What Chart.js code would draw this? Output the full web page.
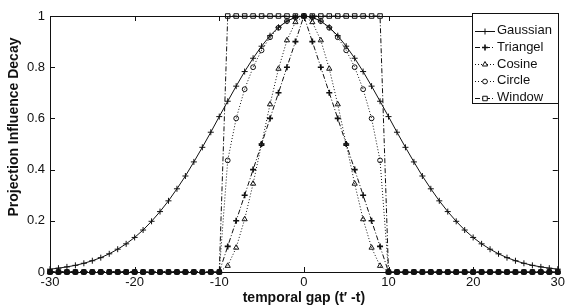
<!DOCTYPE html>
<html>
<head>
<meta charset="utf-8">
<script src="https://cdn.jsdelivr.net/npm/chart.js@4.4.0/dist/chart.umd.min.js"></script>
<style>
  html, body { margin: 0; padding: 0; background: #fff; }
  canvas { display: block; }
</style>
</head>
<body>
<canvas id="myChart" width="568" height="307"></canvas>
<script>
// temporal gap values (x axis)
const gapVals = [-30,-29,-28,-27,-26,-25,-24,-23,-22,-21,-20,-19,-18,-17,-16,-15,-14,-13,-12,-11,
    -10,-9,-8,-7,-6,-5,-4,-3,-2,-1,0,1,2,3,4,5,6,7,8,9,10,
    11,12,13,14,15,16,17,18,19,20,21,22,23,24,25,26,27,28,29,30];

const gaussianVals = [0.011,0.015,0.020,0.026,0.034,0.044,0.056,0.071,0.089,0.110,
    0.135,0.164,0.198,0.236,0.278,0.325,0.375,0.430,0.487,0.546,
    0.607,0.667,0.726,0.783,0.835,0.882,0.923,0.956,0.980,0.995,1,
    0.995,0.980,0.956,0.923,0.882,0.835,0.783,0.726,0.667,0.607,
    0.546,0.487,0.430,0.375,0.325,0.278,0.236,0.198,0.164,0.135,
    0.110,0.089,0.071,0.056,0.044,0.034,0.026,0.020,0.015,0.011];

const triangelVals = [0,0,0,0,0,0,0,0,0,0,0,0,0,0,0,0,0,0,0,0,
    0,0.1,0.2,0.3,0.4,0.5,0.6,0.7,0.8,0.9,1,0.9,0.8,0.7,0.6,0.5,0.4,0.3,0.2,0.1,0,
    0,0,0,0,0,0,0,0,0,0,0,0,0,0,0,0,0,0,0,0];

const cosineVals = [0,0,0,0,0,0,0,0,0,0,0,0,0,0,0,0,0,0,0,0,
    0,0.024,0.095,0.206,0.345,0.5,0.655,0.794,0.905,0.976,1,0.976,0.905,0.794,0.655,0.5,0.345,0.206,0.095,0.024,0,
    0,0,0,0,0,0,0,0,0,0,0,0,0,0,0,0,0,0,0,0];

const circleVals = [0,0,0,0,0,0,0,0,0,0,0,0,0,0,0,0,0,0,0,0,
    0,0.436,0.6,0.714,0.8,0.866,0.917,0.954,0.98,0.995,1,0.995,0.98,0.954,0.917,0.866,0.8,0.714,0.6,0.436,0,
    0,0,0,0,0,0,0,0,0,0,0,0,0,0,0,0,0,0,0,0];

const windowVals = [0,0,0,0,0,0,0,0,0,0,0,0,0,0,0,0,0,0,0,0,
    0,1,1,1,1,1,1,1,1,1,1,1,1,1,1,1,1,1,1,1,0,
    0,0,0,0,0,0,0,0,0,0,0,0,0,0,0,0,0,0,0,0];

const seriesNames = ['Gaussian', 'Triangel', 'Cosine', 'Circle', 'Window'];
const xTicks = [-30, -20, -10, 0, 10, 20, 30];
const yTicks = [0, 0.2, 0.4, 0.6, 0.8, 1];
const xTitle = 'temporal gap (t\u2032 -t)';
const yTitle = 'Projection Influence Decay';

const ink = '#111';
const fontFam = '"Liberation Sans", Arial, sans-serif';

function toPts(vals) {
    return gapVals.map((x, i) => ({x: x, y: vals[i]}));
}

const styles = [
    {dash: [], point: 'cross', r: 3, bw: 1},
    {dash: [5, 2, 1, 2], point: 'cross', r: 3, bw: 1.6},
    {dash: [1, 2], point: 'triangle', r: 3, bw: 1},
    {dash: [1, 2], point: 'circle', r: 2.4, bw: 1},
    {dash: [5, 2, 1, 2], point: 'rect', r: 3.2, bw: 1}
];
const allVals = [gaussianVals, triangelVals, cosineVals, circleVals, windowVals];

const datasets = allVals.map((vals, i) => ({
    label: seriesNames[i],
    data: toPts(vals),
    order: i === 4 ? 0 : 1,
    borderColor: ink,
    borderWidth: 1,
    borderDash: styles[i].dash,
    pointStyle: styles[i].point,
    pointRadius: styles[i].r,
    pointBorderWidth: styles[i].bw,
    pointBorderColor: ink,
    // window squares on the zero line look solid in the original
    pointBackgroundColor: i === 4 ? (c => (c.raw && c.raw.y === 0 ? ink : 'rgba(0,0,0,0)')) : 'rgba(0,0,0,0)',
    tension: 0,
    fill: false,
    clip: false
}));

// box, inward ticks, titles and legend (matlab style)
const matlabLook = {
    id: 'matlabLook',
    beforeDatasetsDraw(chart) {
        const ctx = chart.ctx;
        const a = chart.chartArea;
        const xs = chart.scales.x, ys = chart.scales.y;
        ctx.save();
        ctx.strokeStyle = ink;
        ctx.lineWidth = 1;
        ctx.strokeRect(Math.round(a.left) + 0.5, Math.round(a.top) + 0.5,
            Math.round(a.right - a.left), Math.round(a.bottom - a.top));
        ctx.beginPath();
        xTicks.forEach(t => {
            const px = Math.round(xs.getPixelForValue(t)) + 0.5;
            ctx.moveTo(px, a.bottom); ctx.lineTo(px, a.bottom - 5);
            ctx.moveTo(px, a.top); ctx.lineTo(px, a.top + 5);
        });
        yTicks.forEach(t => {
            const py = Math.round(ys.getPixelForValue(t)) + 0.5;
            ctx.moveTo(a.left, py); ctx.lineTo(a.left + 5, py);
            ctx.moveTo(a.right, py); ctx.lineTo(a.right - 5, py);
        });
        ctx.stroke();
        ctx.restore();
    },
    afterDraw(chart) {
        const ctx = chart.ctx;
        const a = chart.chartArea;
        ctx.save();
        ctx.fillStyle = ink;
        ctx.font = 'bold 14px ' + fontFam;
        ctx.textAlign = 'center';
        ctx.textBaseline = 'middle';
        ctx.fillText(xTitle, (a.left + a.right) / 2, 298);
        ctx.translate(14, 127);
        ctx.rotate(-Math.PI / 2);
        ctx.fillText(yTitle, 0, 0);
        ctx.restore();

        // legend
        ctx.save();
        ctx.fillStyle = '#fff';
        ctx.fillRect(472, 13, 87, 91);
        ctx.strokeStyle = ink;
        ctx.lineWidth = 1;
        ctx.strokeRect(472.5, 13.5, 86, 90);
        ctx.font = '13px ' + fontFam;
        ctx.textAlign = 'left';
        ctx.textBaseline = 'middle';
        seriesNames.forEach((name, i) => {
            const y = 30.5 + i * 16.8;
            const py = Math.round(y) + 0.5;
            ctx.beginPath();
            ctx.setLineDash(styles[i].dash);
            ctx.moveTo(475, py);
            ctx.lineTo(495, py);
            ctx.stroke();
            ctx.setLineDash([]);
            ctx.lineWidth = styles[i].bw;
            ctx.fillStyle = '#fff';
            Chart.helpers.drawPoint(ctx, {pointStyle: styles[i].point, radius: styles[i].r, rotation: 0, borderWidth: styles[i].bw}, 485, py);
            ctx.lineWidth = 1;
            ctx.fillStyle = ink;
            ctx.fillText(name, 497, y);
        });
        ctx.restore();
    }
};

const ctx = document.getElementById('myChart').getContext('2d');
const myChart = new Chart(ctx, {
    type: 'line',
    data: {datasets: datasets},
    options: {
        responsive: false,
        animation: false,
        events: [],
        layout: {padding: {top: 16, right: 10, left: 0, bottom: 0}},
        plugins: {legend: {display: false}, tooltip: {enabled: false}},
        scales: {
            x: {
                type: 'linear', min: -30, max: 30,
                afterBuildTicks: s => { s.ticks = xTicks.map(v => ({value: v})); },
                ticks: {color: ink, font: {size: 13, family: fontFam}, padding: 3, maxRotation: 0,
                    callback: v => String(v)},
                grid: {display: false, drawTicks: false},
                border: {display: false},
                afterFit: s => { s.height = 35; }
            },
            y: {
                min: 0, max: 1,
                afterBuildTicks: s => { s.ticks = yTicks.map(v => ({value: v})); },
                ticks: {color: ink, font: {size: 13, family: fontFam}, padding: 5,
                    callback: v => String(+v.toFixed(1))},
                grid: {display: false, drawTicks: false},
                border: {display: false},
                afterFit: s => { s.width = 50; }
            }
        }
    },
    plugins: [matlabLook]
});
</script>
</body>
</html>
